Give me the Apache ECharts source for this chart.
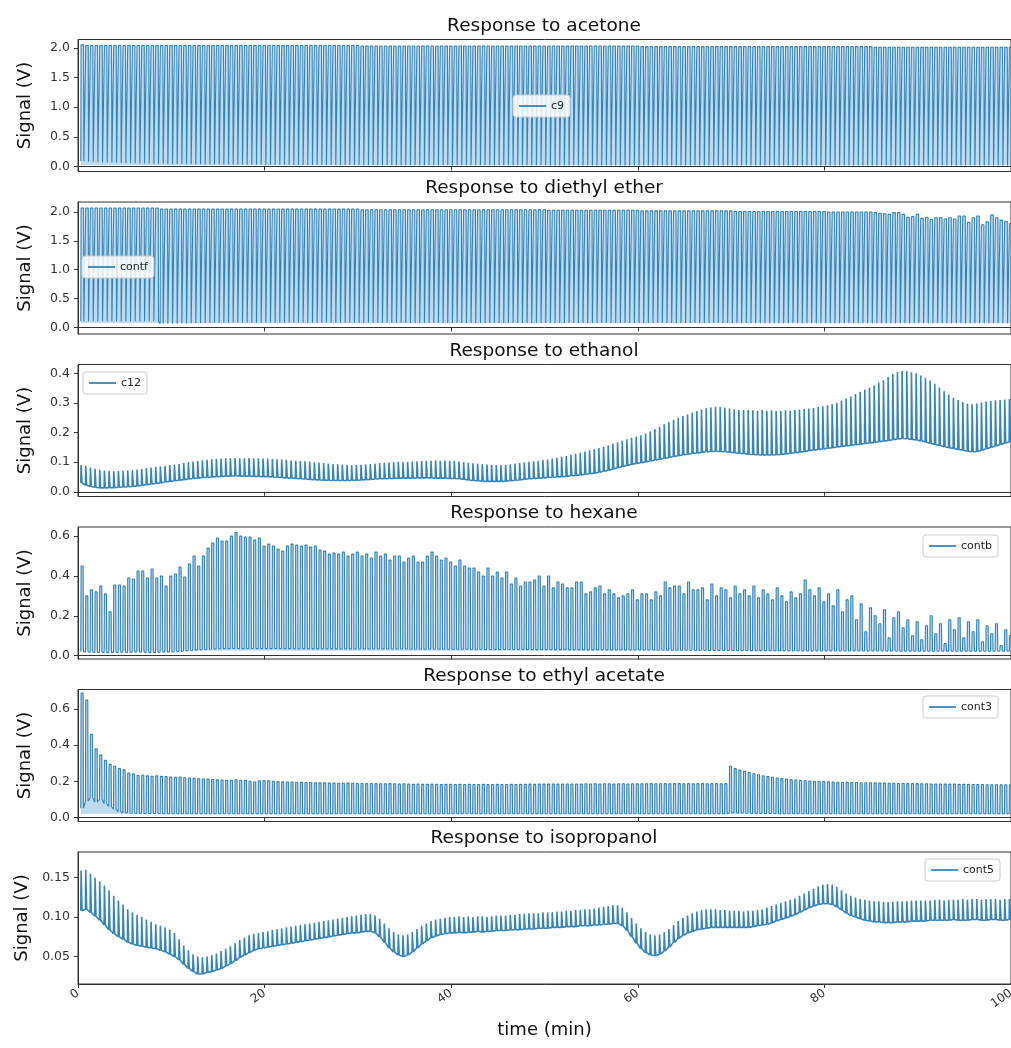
<!DOCTYPE html>
<html>
<head>
<meta charset="utf-8">
<script src="https://cdn.jsdelivr.net/npm/echarts@6/dist/echarts.min.js"></script>
<style>
  html, body { margin: 0; padding: 0; background: #ffffff; }
  #chart { width: 1011px; height: 1048px; }
</style>
</head>
<body>
<div id="chart"></div>
<script>
// Sensor responses: one pulse per sampling cycle (every 0.5 min).
// Each panel keeps the baseline (lo) and the peak (hi) of every cycle, in volts.

const panelTitles = ['Response to acetone', 'Response to diethyl ether', 'Response to ethanol',
                     'Response to hexane', 'Response to ethyl acetate', 'Response to isopropanol'];
const sensorNames = ['c9', 'contf', 'c12', 'contb', 'cont3', 'cont5'];

const xTickValues = [0, 20, 40, 60, 80, 100];
const yTickValues = [
  [0, 0.5, 1.0, 1.5, 2.0],
  [0, 0.5, 1.0, 1.5, 2.0],
  [0, 0.1, 0.2, 0.3, 0.4],
  [0, 0.2, 0.4, 0.6],
  [0, 0.2, 0.4, 0.6],
  [0.05, 0.10, 0.15]
];
const yTickDecimals = [1, 1, 1, 1, 1, 2];
const yExtents = [
  [-0.085, 2.14],
  [-0.115, 2.174],
  [-0.016, 0.43],
  [-0.017, 0.646],
  [-0.023, 0.709],
  [0.0153, 0.1825]
];

const cycleStart = 0.3;    // min
const cycleMinutes = 0.5;  // min

const acetoneHi = [
  2.05,2.04,2.04,2.04,2.04,2.04,2.04,2.04,2.04,2.04,
  2.04,2.04,2.04,2.04,2.04,2.04,2.04,2.04,2.04,2.04,
  2.04,2.04,2.04,2.04,2.04,2.04,2.04,2.04,2.04,2.04,
  2.04,2.04,2.04,2.04,2.04,2.04,2.04,2.04,2.04,2.04,
  2.04,2.04,2.04,2.04,2.04,2.04,2.04,2.04,2.04,2.04,
  2.04,2.04,2.04,2.04,2.04,2.04,2.04,2.04,2.04,2.04,
  2.03,2.03,2.03,2.03,2.03,2.03,2.03,2.03,2.03,2.03,
  2.03,2.03,2.03,2.03,2.03,2.03,2.03,2.03,2.03,2.03,
  2.03,2.03,2.03,2.03,2.03,2.03,2.03,2.03,2.03,2.03,
  2.03,2.03,2.03,2.03,2.03,2.03,2.03,2.03,2.03,2.03,
  2.03,2.03,2.03,2.03,2.03,2.03,2.03,2.03,2.03,2.03,
  2.03,2.03,2.03,2.03,2.03,2.03,2.03,2.03,2.03,2.03,
  2.02,2.02,2.02,2.02,2.02,2.02,2.02,2.02,2.02,2.02,
  2.02,2.02,2.02,2.02,2.02,2.02,2.02,2.02,2.02,2.02,
  2.02,2.02,2.02,2.02,2.02,2.02,2.02,2.02,2.02,2.02,
  2.02,2.02,2.02,2.02,2.02,2.02,2.02,2.02,2.02,2.02,
  2.02,2.02,2.02,2.02,2.02,2.02,2.02,2.02,2.02,2.02,
  2.01,2.01,2.01,2.01,2.01,2.01,2.01,2.01,2.01,2.01,
  2.01,2.01,2.01,2.01,2.01,2.01,2.01,2.01,2.01,2.01,
  2.01,2.01,2.01,2.01,2.01,2.01,2.01,2.01,2.01,2.01
];
const acetoneLo = [
  0.090,0.085,0.080,0.076,0.072,0.068,0.065,0.062,0.059,0.057,
  0.055,0.053,0.051,0.049,0.047,0.046,0.045,0.044,0.043,0.042,
  0.041,0.040,0.039,0.038,0.037,0.036,0.035,0.035,0.034,0.033,
  0.033,0.032,0.032,0.031,0.031,0.030,0.030,0.029,0.029,0.028,
  0.028,0.028,0.027,0.027,0.027,0.026,0.026,0.026,0.025,0.025,
  0.025,0.025,0.024,0.024,0.024,0.024,0.023,0.023,0.023,0.023,
  0.022,0.022,0.022,0.022,0.021,0.021,0.021,0.021,0.021,0.020,
  0.020,0.020,0.020,0.020,0.020,0.020,0.020,0.020,0.020,0.020,
  0.020,0.020,0.020,0.020,0.019,0.019,0.019,0.019,0.019,0.019,
  0.019,0.019,0.019,0.019,0.019,0.019,0.019,0.019,0.019,0.019,
  0.018,0.018,0.018,0.018,0.018,0.018,0.018,0.018,0.018,0.018,
  0.018,0.018,0.018,0.018,0.018,0.018,0.018,0.018,0.018,0.018,
  0.018,0.018,0.017,0.017,0.017,0.017,0.017,0.017,0.017,0.017,
  0.017,0.017,0.017,0.017,0.017,0.017,0.017,0.017,0.017,0.017,
  0.017,0.017,0.017,0.017,0.017,0.017,0.017,0.017,0.017,0.017,
  0.016,0.016,0.016,0.016,0.016,0.016,0.016,0.016,0.016,0.016,
  0.016,0.016,0.016,0.016,0.016,0.016,0.016,0.016,0.016,0.016,
  0.016,0.016,0.016,0.016,0.016,0.016,0.016,0.016,0.016,0.016,
  0.015,0.015,0.015,0.015,0.015,0.015,0.015,0.015,0.015,0.015,
  0.015,0.015,0.015,0.015,0.015,0.015,0.015,0.015,0.015,0.015
];

const etherHi = [
  2.07,2.07,2.07,2.07,2.07,2.07,2.07,2.07,2.07,2.07,
  2.07,2.07,2.07,2.07,2.07,2.07,2.07,2.05,2.05,2.05,
  2.05,2.05,2.05,2.05,2.05,2.05,2.05,2.05,2.05,2.05,
  2.05,2.05,2.05,2.05,2.05,2.05,2.05,2.05,2.05,2.05,
  2.05,2.05,2.05,2.05,2.05,2.05,2.05,2.05,2.05,2.05,
  2.05,2.05,2.05,2.05,2.05,2.05,2.05,2.05,2.05,2.05,
  2.04,2.04,2.04,2.04,2.04,2.04,2.04,2.04,2.04,2.04,
  2.04,2.04,2.04,2.04,2.04,2.04,2.04,2.04,2.04,2.04,
  2.04,2.04,2.04,2.04,2.04,2.04,2.04,2.04,2.04,2.04,
  2.04,2.04,2.04,2.04,2.04,2.04,2.04,2.04,2.04,2.04,
  2.03,2.03,2.03,2.03,2.03,2.03,2.03,2.03,2.03,2.03,
  2.03,2.03,2.03,2.03,2.03,2.03,2.03,2.03,2.03,2.03,
  2.02,2.02,2.02,2.02,2.02,2.02,2.02,2.02,2.02,2.02,
  2.02,2.02,2.02,2.02,2.02,2.02,2.02,2.02,2.02,2.02,
  2.01,2.01,2.01,2.01,2.01,2.01,2.01,2.01,2.01,2.01,
  2.01,2.01,2.01,2.01,2.01,2.01,2.01,2.01,2.01,2.01,
  2.00,2.00,2.00,2.00,2.00,2.00,2.00,2.00,2.00,2.00,
  1.99,1.98,1.97,1.96,1.99,1.99,1.96,1.91,1.92,1.96,
  1.89,1.91,1.87,1.90,1.90,1.88,1.90,1.88,1.93,1.93,
  1.82,1.90,1.93,1.78,1.83,1.95,1.90,1.86,1.84,1.80
];
const etherLo = [
  0.105,0.105,0.105,0.105,0.105,0.105,0.105,0.105,0.105,0.105,
  0.105,0.105,0.105,0.105,0.105,0.105,0.105,0.065,0.062,0.063,
  0.064,0.066,0.068,0.072,0.075,0.077,0.078,0.078,0.079,0.079,
  0.079,0.080,0.079,0.080,0.080,0.079,0.080,0.080,0.079,0.080,
  0.080,0.079,0.080,0.080,0.079,0.079,0.080,0.079,0.080,0.079,
  0.079,0.079,0.080,0.079,0.079,0.079,0.078,0.079,0.079,0.078,
  0.078,0.079,0.078,0.078,0.078,0.079,0.078,0.078,0.078,0.078,
  0.078,0.078,0.078,0.077,0.078,0.078,0.077,0.078,0.077,0.077,
  0.077,0.077,0.077,0.077,0.077,0.076,0.077,0.077,0.076,0.077,
  0.076,0.076,0.077,0.076,0.076,0.076,0.076,0.076,0.076,0.076,
  0.076,0.076,0.075,0.076,0.075,0.075,0.076,0.075,0.075,0.075,
  0.075,0.075,0.075,0.075,0.075,0.075,0.075,0.075,0.075,0.075,
  0.075,0.074,0.075,0.074,0.074,0.075,0.074,0.074,0.074,0.074,
  0.074,0.074,0.074,0.074,0.074,0.074,0.074,0.073,0.074,0.074,
  0.073,0.073,0.074,0.073,0.073,0.073,0.073,0.073,0.073,0.073,
  0.073,0.073,0.073,0.072,0.073,0.072,0.073,0.072,0.072,0.072,
  0.072,0.072,0.072,0.072,0.072,0.072,0.072,0.072,0.072,0.072,
  0.072,0.071,0.072,0.071,0.071,0.072,0.071,0.071,0.071,0.071,
  0.071,0.071,0.071,0.071,0.071,0.071,0.071,0.070,0.071,0.070,
  0.070,0.070,0.070,0.070,0.070,0.070,0.070,0.070,0.070,0.070
];

const ethanolHi = [
  0.090,0.088,0.082,0.078,0.074,0.071,0.070,0.069,0.070,0.071,
  0.072,0.073,0.075,0.077,0.080,0.082,0.084,0.086,0.088,0.090,
  0.092,0.094,0.097,0.100,0.102,0.104,0.106,0.108,0.110,0.111,
  0.112,0.113,0.113,0.114,0.113,0.113,0.114,0.112,0.113,0.112,
  0.112,0.111,0.110,0.109,0.108,0.106,0.105,0.104,0.103,0.102,
  0.100,0.098,0.097,0.095,0.094,0.093,0.092,0.091,0.090,0.090,
  0.091,0.092,0.094,0.095,0.097,0.098,0.099,0.100,0.101,0.100,
  0.101,0.102,0.103,0.104,0.105,0.105,0.106,0.105,0.106,0.105,
  0.104,0.102,0.100,0.098,0.096,0.095,0.093,0.092,0.091,0.090,
  0.090,0.091,0.093,0.095,0.097,0.099,0.101,0.103,0.105,0.107,
  0.109,0.112,0.115,0.118,0.121,0.125,0.128,0.132,0.136,0.140,
  0.144,0.148,0.152,0.157,0.162,0.167,0.172,0.177,0.182,0.187,
  0.191,0.197,0.204,0.212,0.220,0.228,0.236,0.243,0.250,0.256,
  0.262,0.268,0.273,0.278,0.282,0.285,0.287,0.286,0.284,0.281,
  0.279,0.277,0.276,0.276,0.275,0.274,0.276,0.274,0.275,0.273,
  0.274,0.275,0.274,0.276,0.278,0.280,0.281,0.283,0.286,0.289,
  0.292,0.296,0.301,0.308,0.315,0.322,0.330,0.338,0.345,0.352,
  0.360,0.368,0.377,0.388,0.398,0.405,0.408,0.407,0.404,0.400,
  0.393,0.385,0.376,0.365,0.352,0.340,0.328,0.318,0.310,0.303,
  0.298,0.296,0.298,0.302,0.305,0.307,0.309,0.310,0.312,0.313
];
const ethanolLo = [
  0.030,0.022,0.018,0.015,0.013,0.013,0.014,0.014,0.015,0.016,
  0.017,0.018,0.020,0.022,0.024,0.026,0.028,0.030,0.033,0.035,
  0.037,0.039,0.041,0.043,0.045,0.046,0.048,0.049,0.050,0.051,
  0.052,0.053,0.053,0.054,0.053,0.053,0.053,0.052,0.052,0.051,
  0.051,0.050,0.049,0.048,0.047,0.046,0.045,0.044,0.043,0.042,
  0.041,0.040,0.039,0.039,0.038,0.038,0.038,0.038,0.039,0.039,
  0.040,0.041,0.042,0.043,0.044,0.044,0.045,0.045,0.046,0.046,
  0.046,0.046,0.047,0.047,0.047,0.047,0.046,0.046,0.046,0.045,
  0.045,0.044,0.042,0.040,0.038,0.037,0.036,0.035,0.035,0.035,
  0.035,0.036,0.037,0.039,0.040,0.042,0.044,0.045,0.046,0.047,
  0.048,0.049,0.050,0.051,0.052,0.054,0.055,0.057,0.059,0.061,
  0.063,0.066,0.069,0.073,0.077,0.081,0.085,0.089,0.093,0.096,
  0.098,0.101,0.104,0.107,0.110,0.113,0.116,0.119,0.122,0.125,
  0.127,0.129,0.131,0.133,0.135,0.136,0.137,0.136,0.135,0.134,
  0.132,0.130,0.129,0.127,0.126,0.125,0.124,0.124,0.124,0.125,
  0.126,0.128,0.130,0.132,0.134,0.136,0.139,0.141,0.143,0.145,
  0.147,0.149,0.151,0.153,0.155,0.157,0.159,0.161,0.163,0.165,
  0.167,0.169,0.171,0.173,0.176,0.178,0.180,0.179,0.177,0.175,
  0.172,0.168,0.164,0.160,0.156,0.152,0.149,0.146,0.143,0.140,
  0.137,0.135,0.136,0.140,0.145,0.150,0.155,0.160,0.165,0.168
];

const hexaneHi = [
  0.45,0.30,0.33,0.32,0.35,0.31,0.22,0.355,0.355,0.35,
  0.39,0.385,0.425,0.425,0.39,0.435,0.39,0.40,0.35,0.40,
  0.41,0.445,0.395,0.46,0.50,0.45,0.50,0.54,0.565,0.59,
  0.575,0.575,0.60,0.62,0.60,0.595,0.595,0.58,0.59,0.55,
  0.56,0.55,0.535,0.525,0.55,0.56,0.555,0.55,0.555,0.545,
  0.55,0.53,0.525,0.51,0.515,0.51,0.52,0.50,0.51,0.52,
  0.50,0.51,0.49,0.52,0.50,0.51,0.48,0.50,0.50,0.47,
  0.49,0.50,0.47,0.47,0.50,0.52,0.50,0.48,0.49,0.47,
  0.45,0.48,0.45,0.44,0.44,0.42,0.40,0.44,0.40,0.42,
  0.39,0.42,0.36,0.39,0.35,0.37,0.37,0.38,0.40,0.35,
  0.40,0.34,0.37,0.36,0.34,0.34,0.37,0.37,0.31,0.32,
  0.34,0.35,0.31,0.33,0.31,0.29,0.30,0.31,0.33,0.28,
  0.31,0.31,0.28,0.32,0.30,0.37,0.34,0.35,0.35,0.31,
  0.37,0.33,0.33,0.34,0.28,0.36,0.30,0.34,0.33,0.29,
  0.35,0.31,0.33,0.30,0.35,0.29,0.33,0.31,0.28,0.34,
  0.30,0.27,0.32,0.29,0.31,0.38,0.33,0.30,0.34,0.27,
  0.31,0.25,0.33,0.22,0.28,0.30,0.18,0.26,0.12,0.24,
  0.20,0.16,0.23,0.09,0.19,0.22,0.14,0.18,0.10,0.17,
  0.08,0.15,0.20,0.11,0.16,0.06,0.18,0.13,0.19,0.09,
  0.17,0.12,0.18,0.07,0.15,0.11,0.16,0.05,0.13,0.10
];
const hexaneLo = [
  0.020,0.018,0.017,0.016,0.017,0.016,0.015,0.016,0.017,0.017,
  0.016,0.017,0.018,0.017,0.016,0.015,0.016,0.017,0.018,0.018,
  0.019,0.021,0.023,0.025,0.027,0.029,0.031,0.032,0.033,0.034,
  0.035,0.035,0.036,0.036,0.035,0.035,0.036,0.036,0.035,0.035,
  0.035,0.036,0.036,0.035,0.035,0.035,0.034,0.035,0.035,0.034,
  0.034,0.034,0.035,0.034,0.034,0.034,0.033,0.034,0.034,0.033,
  0.033,0.033,0.033,0.033,0.033,0.033,0.033,0.033,0.033,0.033,
  0.033,0.032,0.033,0.032,0.032,0.033,0.032,0.032,0.032,0.032,
  0.032,0.032,0.032,0.032,0.031,0.032,0.031,0.031,0.031,0.031,
  0.031,0.031,0.031,0.031,0.031,0.030,0.031,0.030,0.030,0.030,
  0.030,0.030,0.030,0.030,0.030,0.029,0.030,0.029,0.029,0.029,
  0.029,0.029,0.029,0.029,0.028,0.029,0.028,0.028,0.028,0.028,
  0.028,0.028,0.028,0.027,0.028,0.027,0.027,0.027,0.027,0.027,
  0.027,0.027,0.026,0.027,0.026,0.026,0.026,0.026,0.026,0.026,
  0.026,0.025,0.026,0.025,0.025,0.025,0.025,0.025,0.025,0.025,
  0.025,0.025,0.024,0.025,0.024,0.024,0.024,0.024,0.024,0.024,
  0.024,0.024,0.023,0.024,0.023,0.023,0.023,0.023,0.023,0.023,
  0.023,0.023,0.023,0.022,0.023,0.022,0.022,0.022,0.022,0.022,
  0.022,0.022,0.022,0.022,0.022,0.022,0.022,0.022,0.022,0.022,
  0.022,0.022,0.022,0.022,0.022,0.022,0.022,0.022,0.022,0.022
];

const ethylAcetateHi = [
  0.69,0.65,0.46,0.38,0.345,0.317,0.294,0.283,0.270,0.264,
  0.245,0.241,0.232,0.235,0.230,0.228,0.230,0.227,0.226,0.224,
  0.222,0.224,0.220,0.218,0.216,0.214,0.213,0.212,0.210,0.208,
  0.207,0.206,0.205,0.208,0.206,0.205,0.200,0.196,0.203,0.204,
  0.203,0.200,0.198,0.197,0.196,0.196,0.195,0.194,0.193,0.193,
  0.192,0.191,0.191,0.190,0.190,0.189,0.189,0.190,0.189,0.188,
  0.188,0.187,0.188,0.187,0.186,0.186,0.187,0.186,0.185,0.186,
  0.184,0.183,0.184,0.183,0.183,0.184,0.183,0.182,0.183,0.183,
  0.182,0.183,0.182,0.183,0.182,0.182,0.183,0.182,0.182,0.183,
  0.182,0.182,0.183,0.182,0.183,0.183,0.184,0.183,0.184,0.184,
  0.184,0.185,0.184,0.185,0.185,0.184,0.185,0.185,0.186,0.185,
  0.186,0.185,0.186,0.186,0.185,0.186,0.186,0.185,0.186,0.186,
  0.186,0.186,0.187,0.186,0.186,0.187,0.186,0.187,0.187,0.186,
  0.187,0.186,0.187,0.187,0.186,0.187,0.187,0.186,0.187,0.283,
  0.270,0.262,0.255,0.248,0.242,0.236,0.231,0.226,0.222,0.218,
  0.215,0.212,0.209,0.207,0.205,0.203,0.201,0.200,0.199,0.198,
  0.197,0.196,0.195,0.195,0.194,0.193,0.193,0.192,0.192,0.191,
  0.191,0.190,0.190,0.189,0.189,0.188,0.188,0.187,0.187,0.187,
  0.186,0.186,0.185,0.185,0.185,0.184,0.184,0.184,0.183,0.183,
  0.183,0.182,0.182,0.182,0.181,0.181,0.181,0.180,0.180,0.180
];
const ethylAcetateLo = [
  0.050,0.090,0.110,0.085,0.100,0.075,0.060,0.045,0.032,0.026,
  0.024,0.023,0.022,0.022,0.021,0.021,0.021,0.020,0.020,0.020,
  0.020,0.020,0.020,0.020,0.020,0.020,0.020,0.020,0.020,0.020,
  0.020,0.020,0.020,0.020,0.020,0.020,0.020,0.020,0.020,0.020,
  0.020,0.020,0.020,0.020,0.020,0.020,0.020,0.020,0.020,0.020,
  0.020,0.020,0.020,0.020,0.020,0.020,0.020,0.020,0.020,0.020,
  0.020,0.020,0.020,0.020,0.020,0.020,0.020,0.020,0.020,0.020,
  0.020,0.020,0.020,0.020,0.020,0.020,0.020,0.020,0.020,0.020,
  0.020,0.020,0.020,0.020,0.020,0.020,0.020,0.020,0.020,0.020,
  0.020,0.020,0.020,0.020,0.020,0.020,0.020,0.020,0.020,0.020,
  0.020,0.020,0.020,0.020,0.020,0.020,0.020,0.020,0.020,0.020,
  0.020,0.020,0.020,0.020,0.020,0.020,0.020,0.020,0.020,0.020,
  0.020,0.020,0.020,0.020,0.020,0.020,0.020,0.020,0.020,0.020,
  0.020,0.020,0.020,0.020,0.020,0.020,0.020,0.020,0.020,0.024,
  0.026,0.025,0.024,0.023,0.022,0.022,0.021,0.021,0.021,0.020,
  0.020,0.020,0.020,0.020,0.020,0.020,0.020,0.020,0.020,0.020,
  0.020,0.020,0.020,0.020,0.020,0.020,0.020,0.020,0.020,0.020,
  0.020,0.020,0.020,0.020,0.020,0.020,0.020,0.020,0.020,0.020,
  0.020,0.020,0.020,0.020,0.020,0.020,0.020,0.020,0.020,0.020,
  0.020,0.020,0.020,0.020,0.020,0.020,0.020,0.020,0.020,0.020
];

const isopropanolHi = [
  0.159,0.160,0.155,0.150,0.145,0.140,0.134,0.127,0.121,0.116,
  0.110,0.106,0.103,0.100,0.097,0.094,0.091,0.089,0.087,0.084,
  0.080,0.072,0.064,0.058,0.053,0.050,0.049,0.050,0.052,0.054,
  0.057,0.060,0.063,0.067,0.071,0.074,0.077,0.079,0.080,0.081,
  0.082,0.084,0.085,0.086,0.087,0.088,0.089,0.090,0.091,0.092,
  0.093,0.094,0.095,0.096,0.097,0.098,0.099,0.100,0.101,0.102,
  0.103,0.104,0.104,0.102,0.098,0.092,0.086,0.081,0.078,0.077,
  0.078,0.081,0.085,0.089,0.092,0.095,0.097,0.098,0.099,0.100,
  0.100,0.101,0.100,0.101,0.100,0.101,0.101,0.100,0.101,0.102,
  0.102,0.102,0.103,0.103,0.104,0.104,0.105,0.105,0.105,0.106,
  0.106,0.106,0.107,0.107,0.108,0.108,0.109,0.109,0.110,0.110,
  0.111,0.112,0.113,0.114,0.115,0.115,0.112,0.106,0.099,0.092,
  0.086,0.081,0.078,0.077,0.078,0.081,0.085,0.090,0.095,0.099,
  0.102,0.105,0.107,0.109,0.110,0.110,0.110,0.109,0.109,0.108,
  0.108,0.108,0.107,0.108,0.108,0.109,0.110,0.112,0.114,0.116,
  0.118,0.120,0.122,0.124,0.127,0.130,0.133,0.136,0.139,0.141,
  0.142,0.141,0.138,0.134,0.130,0.127,0.125,0.123,0.122,0.121,
  0.120,0.120,0.119,0.119,0.119,0.120,0.120,0.120,0.121,0.121,
  0.121,0.121,0.121,0.122,0.122,0.121,0.122,0.122,0.122,0.123,
  0.122,0.123,0.123,0.122,0.123,0.123,0.123,0.122,0.123,0.123
];
const isopropanolLo = [
  0.108,0.110,0.106,0.101,0.096,0.090,0.084,0.079,0.075,0.072,
  0.068,0.066,0.064,0.063,0.062,0.061,0.060,0.058,0.056,0.053,
  0.050,0.046,0.040,0.035,0.031,0.028,0.028,0.030,0.031,0.033,
  0.035,0.038,0.041,0.045,0.049,0.052,0.055,0.058,0.060,0.061,
  0.062,0.063,0.064,0.065,0.066,0.067,0.068,0.069,0.070,0.071,
  0.072,0.073,0.074,0.075,0.076,0.077,0.078,0.079,0.080,0.080,
  0.081,0.082,0.082,0.080,0.075,0.068,0.061,0.056,0.052,0.050,
  0.052,0.056,0.061,0.066,0.070,0.074,0.076,0.078,0.079,0.080,
  0.080,0.081,0.080,0.081,0.081,0.082,0.081,0.082,0.082,0.083,
  0.083,0.083,0.084,0.084,0.084,0.085,0.085,0.085,0.086,0.086,
  0.086,0.087,0.087,0.087,0.088,0.088,0.088,0.089,0.089,0.089,
  0.090,0.090,0.091,0.091,0.092,0.092,0.089,0.083,0.075,0.067,
  0.060,0.055,0.052,0.051,0.053,0.057,0.062,0.068,0.073,0.077,
  0.080,0.082,0.084,0.085,0.086,0.087,0.087,0.087,0.087,0.087,
  0.087,0.087,0.087,0.087,0.088,0.089,0.090,0.091,0.093,0.095,
  0.097,0.099,0.101,0.103,0.106,0.109,0.112,0.114,0.116,0.117,
  0.117,0.116,0.113,0.109,0.105,0.102,0.100,0.098,0.096,0.095,
  0.094,0.094,0.093,0.093,0.093,0.094,0.094,0.094,0.095,0.095,
  0.095,0.095,0.096,0.096,0.096,0.096,0.096,0.097,0.096,0.096,
  0.096,0.097,0.097,0.096,0.096,0.097,0.097,0.096,0.096,0.097
];

const panelLo = [acetoneLo, etherLo, ethanolLo, hexaneLo, ethylAcetateLo, isopropanolLo];
const panelHi = [acetoneHi, etherHi, ethanolHi, hexaneHi, ethylAcetateHi, isopropanolHi];

// ---- drawing -------------------------------------------------------------

const FONT = 'DejaVu Sans';
const LINE_BLUE = '#1f77b4';
const PULSE_FILL = 'rgba(86,160,214,0.55)';
const AXIS_GRAY = '#333333';

// Per-panel pulse styling: how long each pulse stays at its peak (min), the
// stroke width, and the level a light tint inside the pulses is anchored to
// (null = no tint, used where the baseline floats well above zero).
const pulseHold   = [0.27, 0.27, 0.07, 0.22, 0.22, 0.07];
const strokeWidth = [1.1, 1.1, 1.6, 1.1, 1.1, 1.6];
const tintOrigin  = [0.02, 0.075, null, 0.025, 0.02, null];
const PULSE_RISE = 0.03;

// Each sampling cycle is drawn as a square pulse from its baseline to its peak.
function pulseTrain(lo, hi, hold) {
  const pts = [];
  for (let i = 0; i < hi.length; i++) {
    const t = cycleStart + i * cycleMinutes;
    pts.push([t, lo[i]],
             [t + PULSE_RISE, hi[i]],
             [t + PULSE_RISE + hold, hi[i]],
             [t + 2 * PULSE_RISE + hold, lo[i]]);
  }
  return pts;
}

const gridTops = [39.5, 202, 364.5, 527, 689.5, 852];
const gridHeight = 132;
const plotLeft = 78, plotWidth = 933;

const legendPlacement = [
  { left: 513, top: 95 },
  { left: 82, top: 256 },
  { left: 83, top: 372 },
  { left: 923, top: 535 },
  { left: 923, top: 696 },
  { left: 925, top: 859 }
];

const grids = [], xAxes = [], yAxes = [], series = [], titles = [], legends = [];
for (let p = 0; p < 6; p++) {
  const isBottom = p === 5;
  grids.push({
    left: plotLeft, top: gridTops[p], width: plotWidth, height: gridHeight,
    outerBoundsMode: 'none', containLabel: false,
    show: true, borderColor: AXIS_GRAY, borderWidth: 1, backgroundColor: '#ffffff'
  });
  titles.push({
    text: panelTitles[p], left: plotLeft + plotWidth / 2 - 0.5, top: gridTops[p] - 23,
    textAlign: 'center', padding: 0,
    textStyle: { fontFamily: FONT, fontSize: 18.5, fontWeight: 'normal', color: '#111' }
  });
  xAxes.push({
    type: 'value', gridIndex: p, min: 0, max: 100, interval: 20,
    axisLine: { show: true, lineStyle: { color: AXIS_GRAY, width: 1 } },
    axisTick: { show: true, length: 4, lineStyle: { color: AXIS_GRAY }, customValues: xTickValues },
    axisLabel: {
      show: isBottom, rotate: 35, margin: 8, customValues: xTickValues,
      fontFamily: FONT, fontSize: 12, color: '#333'
    },
    splitLine: { show: false },
    name: isBottom ? 'time (min)' : '',
    nameLocation: 'middle', nameGap: 37,
    nameTextStyle: { fontFamily: FONT, fontSize: 18, color: '#111' }
  });
  const dec = yTickDecimals[p];
  yAxes.push({
    type: 'value', gridIndex: p, min: yExtents[p][0], max: yExtents[p][1],
    axisLine: { show: true, lineStyle: { color: AXIS_GRAY, width: 1 } },
    axisTick: { show: true, length: 4, lineStyle: { color: AXIS_GRAY }, customValues: yTickValues[p] },
    axisLabel: {
      customValues: yTickValues[p], margin: 8,
      formatter: v => Number(v).toFixed(dec),
      fontFamily: FONT, fontSize: 12.5, color: '#333'
    },
    splitLine: { show: false },
    name: 'Signal (V)', nameLocation: 'middle', nameGap: 44, nameRotate: 90,
    nameTextStyle: { fontFamily: FONT, fontSize: 18, color: '#111' }
  });
  const s = {
    name: sensorNames[p], type: 'line', xAxisIndex: p, yAxisIndex: p,
    data: pulseTrain(panelLo[p], panelHi[p], pulseHold[p]),
    showSymbol: false, symbol: 'none', animation: false,
    lineStyle: { color: LINE_BLUE, width: strokeWidth[p], opacity: 0.9 },
    itemStyle: { color: LINE_BLUE },
    emphasis: { disabled: true }
  };
  if (tintOrigin[p] !== null) s.areaStyle = { color: PULSE_FILL, origin: tintOrigin[p] };
  series.push(s);
  legends.push({
    data: [{ name: sensorNames[p], icon: 'rect' }],
    left: legendPlacement[p].left, top: legendPlacement[p].top,
    selectedMode: false, itemWidth: 27, itemHeight: 1.6, itemGap: 0,
    padding: [5, 6, 5, 6],
    backgroundColor: 'rgba(255,255,255,0.85)', borderColor: '#cccccc', borderWidth: 1, borderRadius: 3,
    textStyle: { fontFamily: FONT, fontSize: 11, color: '#222', lineHeight: 12 }
  });
}

const chart = echarts.init(document.getElementById('chart'), null, { renderer: 'canvas' });
chart.setOption({
  backgroundColor: '#ffffff',
  animation: false,
  title: titles,
  legend: legends,
  grid: grids,
  xAxis: xAxes,
  yAxis: yAxes,
  series: series
});
</script>
</body>
</html>
